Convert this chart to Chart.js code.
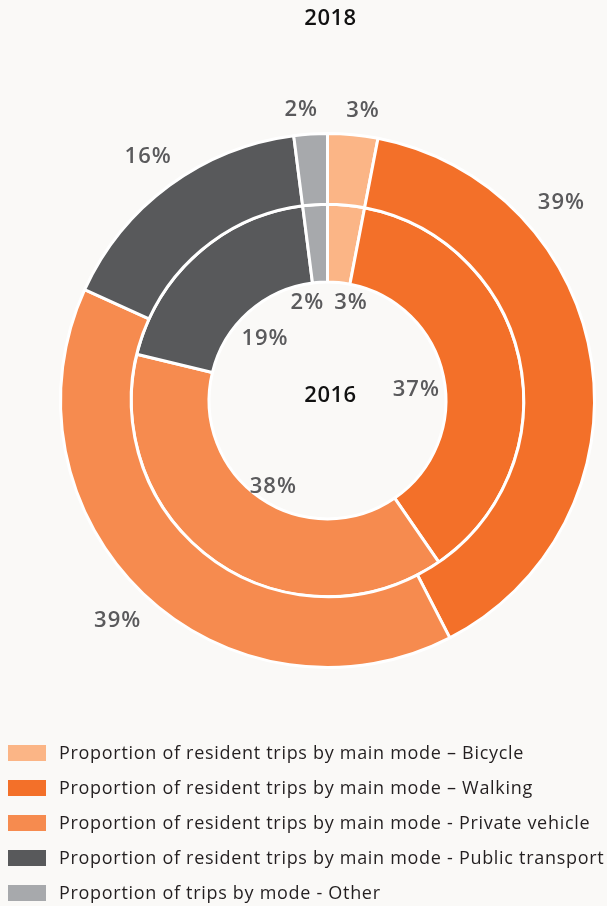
<!DOCTYPE html>
<html>
<head>
<meta charset="utf-8">
<script src="https://cdn.jsdelivr.net/npm/chart.js@4/dist/chart.umd.min.js"></script>
<style>
  html, body { margin: 0; padding: 0; background: #faf9f7; }
  #wrap { width: 607px; height: 906px; position: relative; }
</style>
</head>
<body>
<div id="wrap"><canvas id="chart"></canvas></div>
<script>
// Chart data
var categories = [
  "Proportion of resident trips by main mode \u2013 Bicycle",
  "Proportion of resident trips by main mode \u2013 Walking",
  "Proportion of resident trips by main mode - Private vehicle",
  "Proportion of resident trips by main mode - Public transport",
  "Proportion of trips by mode - Other"
];
var years = ["2018", "2016"];
var values2018 = [3, 39, 39, 16, 2];
var values2016 = [3, 37, 38, 19, 2];

var colours = ["#fbb586", "#f37029", "#f68b4f", "#58595b", "#a7a9ac"];
var bg = "#faf9f7";
var fontFamily = "'Open Sans', sans-serif";

// Paints the background, title, centre text, legend and percentage labels
var decorations = {
  id: "decorations",
  beforeDraw: function(chart) {
    var ctx = chart.ctx;
    ctx.save();
    ctx.fillStyle = bg;
    ctx.fillRect(0, 0, chart.width, chart.height);
    ctx.restore();
  },
  afterDatasetsDraw: function(chart) {
    var ctx = chart.ctx;
    var arc0 = chart.getDatasetMeta(0).data[0];
    var cx = arc0.x, cy = arc0.y;

    ctx.save();
    ctx.textAlign = "center";
    ctx.textBaseline = "middle";

    // Title and centre year
    ctx.fillStyle = "#111";
    ctx.font = "600 22px " + fontFamily;
    ctx.letterSpacing = "0.5px";
    ctx.fillText(years[0], cx + 3, 19);
    ctx.fillText(years[1], cx + 3, cy - 5);

    // Percentage labels
    ctx.font = "600 22px " + fontFamily;
    ctx.letterSpacing = "1px";
    ctx.fillStyle = "#5a5a5c";
    drawRingLabels(chart, 0, true, 15, 28, 0);
    drawRingLabels(chart, 1, false, 3, 10, 8);

    // Legend
    ctx.textAlign = "left";
    ctx.font = "400 18px " + fontFamily;
    ctx.letterSpacing = "0.7px";
    categories.forEach(function(label, i) {
      var top = 745 + i * 35;
      ctx.fillStyle = colours[i];
      ctx.fillRect(8, top, 38, 16);
      ctx.fillStyle = "#231f20";
      ctx.fillText(label, 59, top + 9);
    });
    ctx.restore();
  }
};

// Places each value label just outside (or inside) its ring at the slice's mid angle
function drawRingLabels(chart, dsIndex, outside, gap, minGap, shiftY) {
  var ctx = chart.ctx;
  var meta = chart.getDatasetMeta(dsIndex);
  var data = chart.data.datasets[dsIndex].data;
  var items = [];

  meta.data.forEach(function(arc, i) {
    var p = arc.getProps(["x", "y", "startAngle", "endAngle", "outerRadius", "innerRadius"]);
    var a = (p.startAngle + p.endAngle) / 2;
    var text = data[i] + "%";
    var w = ctx.measureText(text).width, h = 16;
    var ext = Math.abs(Math.cos(a)) * w / 2 + Math.abs(Math.sin(a)) * h / 2;
    var r = outside ? p.outerRadius + gap + ext : p.innerRadius - gap - ext;
    var x = p.x + Math.cos(a) * r;
    var y = p.y + Math.sin(a) * r;

    // Keep labels inside the canvas by sliding them round the circle
    var limit = chart.width - 22 - w / 2;
    if (x > limit) {
      x = limit;
      var dy = Math.sqrt(Math.max(r * r - (x - p.x) * (x - p.x), 0));
      y = p.y + (y < p.y ? -dy : dy);
    }
    items.push({ text: text, x: x, y: y + shiftY, w: w });
  });

  // Spread the small slices at the top so they don't collide
  var first = items[0], last = items[items.length - 1];
  var need = (first.w + last.w) / 2 + minGap;
  var dist = first.x - last.x;
  if (Math.abs(first.y - last.y) < 20 && dist < need) {
    first.x += (need - dist) / 2;
    last.x -= (need - dist) / 2;
  }

  items.forEach(function(it) {
    ctx.fillText(it.text, it.x, it.y);
  });
}

new Chart(document.getElementById("chart"), {
  type: "doughnut",
  data: {
    labels: categories,
    datasets: [
      { label: years[0], data: values2018, backgroundColor: colours, weight: 0.91 },
      { label: years[1], data: values2016, backgroundColor: colours, weight: 1 }
    ]
  },
  options: {
    responsive: true,
    maintainAspectRatio: false,
    animation: false,
    radius: 267,
    cutout: 118,
    borderColor: "#ffffff",
    borderWidth: 3,
    layout: { padding: { left: 48, right: 0, top: 133, bottom: 238 } },
    plugins: {
      legend: { display: false },
      title: { display: false },
      tooltip: { enabled: false }
    }
  },
  plugins: [decorations]
});
</script>
</body>
</html>
